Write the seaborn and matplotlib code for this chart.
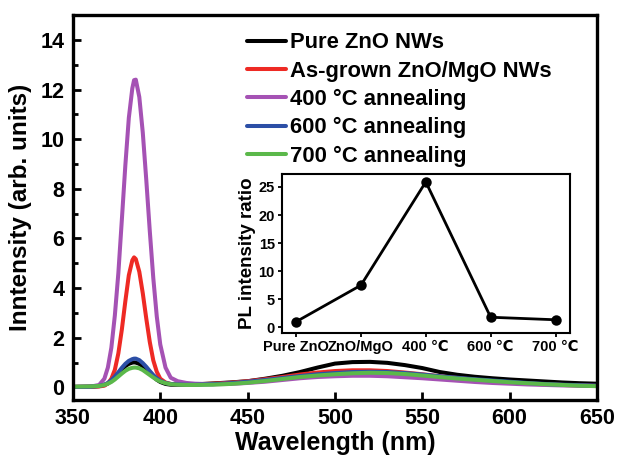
import matplotlib
matplotlib.use("Agg")
import matplotlib.pyplot as plt
from matplotlib.ticker import MultipleLocator
import seaborn as sns

# Datos
wavelength = [350, 360, 365, 368, 370, 372, 374, 376, 378, 380, 382, 384, 385, 386, 388,
              390, 392, 394, 396, 398, 400, 403, 406, 410, 415, 420, 430, 440, 450,
              460, 470, 480, 490, 500, 510, 520, 530, 540, 550, 560, 570, 580, 590,
              600, 610, 620, 630, 640, 650]

pure_zno = [0.02, 0.03, 0.05, 0.10, 0.16, 0.26, 0.40, 0.56, 0.72, 0.86, 0.95, 1.00, 1.01, 1.00, 0.95,
            0.85, 0.72, 0.57, 0.43, 0.31, 0.22, 0.14, 0.11, 0.10, 0.11, 0.12, 0.16, 0.20, 0.25,
            0.35, 0.47, 0.62, 0.80, 0.96, 1.02, 1.03, 0.99, 0.90, 0.78, 0.62, 0.51, 0.43, 0.37,
            0.32, 0.28, 0.24, 0.20, 0.17, 0.15]

as_grown = [0.02, 0.03, 0.04, 0.07, 0.16, 0.35, 0.71, 1.37, 2.33, 3.47, 4.52, 5.12, 5.24, 5.17, 4.66,
            3.79, 2.77, 1.83, 1.09, 0.63, 0.35, 0.20, 0.14, 0.12, 0.12, 0.13, 0.15, 0.19, 0.25,
            0.33, 0.42, 0.52, 0.60, 0.66, 0.69, 0.69, 0.66, 0.60, 0.53, 0.45, 0.38, 0.31, 0.25,
            0.20, 0.16, 0.12, 0.10, 0.08, 0.06]

ann_400 = [0.02, 0.03, 0.10, 0.35, 0.80, 1.60, 2.90, 4.60, 6.75, 8.94, 10.86, 12.05, 12.38, 12.40, 11.70,
           10.26, 8.35, 6.30, 4.41, 2.86, 1.73, 0.80, 0.39, 0.25, 0.18, 0.15, 0.13, 0.14, 0.18,
           0.23, 0.30, 0.37, 0.42, 0.45, 0.47, 0.47, 0.45, 0.41, 0.37, 0.32, 0.27, 0.22, 0.18,
           0.15, 0.12, 0.10, 0.08, 0.07, 0.06]

ann_600 = [0.02, 0.03, 0.06, 0.11, 0.18, 0.29, 0.44, 0.61, 0.79, 0.95, 1.07, 1.14, 1.16, 1.16, 1.10,
           0.98, 0.83, 0.66, 0.50, 0.37, 0.27, 0.18, 0.14, 0.12, 0.11, 0.11, 0.13, 0.17, 0.23,
           0.30, 0.38, 0.46, 0.53, 0.58, 0.62, 0.63, 0.62, 0.58, 0.52, 0.45, 0.39, 0.33, 0.28,
           0.23, 0.18, 0.14, 0.11, 0.09, 0.07]

ann_700 = [0.03, 0.04, 0.06, 0.10, 0.15, 0.22, 0.32, 0.44, 0.56, 0.67, 0.75, 0.79, 0.80, 0.80, 0.77,
           0.70, 0.60, 0.50, 0.40, 0.31, 0.24, 0.17, 0.13, 0.11, 0.10, 0.10, 0.11, 0.14, 0.19,
           0.26, 0.34, 0.42, 0.48, 0.53, 0.57, 0.59, 0.58, 0.54, 0.48, 0.42, 0.36, 0.31, 0.26,
           0.21, 0.17, 0.13, 0.10, 0.07, 0.05]

series_labels = ["Pure ZnO NWs", "As-grown ZnO/MgO NWs", "400 °C annealing",
                 "600 °C annealing", "700 °C annealing"]
series_colors = ["black", "#ee2a24", "#a552b4", "#2c4fa6", "#5bb84a"]

# Inset
inset_cats = ["Pure ZnO", "ZnO/MgO", "400 ℃", "600 ℃", "700 ℃"]
inset_ratio = [1.0, 7.5, 25.9, 1.8, 1.35]

sns.set_style("ticks")
plt.rcParams["font.family"] = ["Liberation Sans", "DejaVu Sans"]
plt.rcParams["font.weight"] = "bold"
for k in ["text.color", "axes.labelcolor", "xtick.color", "ytick.color", "axes.edgecolor"]:
    plt.rcParams[k] = "black"

fig = plt.figure(figsize=(6.18, 4.58), dpi=100)
ax = fig.add_axes([0.118, 0.127, 0.848, 0.840])

all_series = [pure_zno, as_grown, ann_400, ann_600, ann_700]
for vals, lab, col in zip(all_series, series_labels, series_colors):
    sns.lineplot(x=wavelength, y=vals, color=col, linewidth=2.9, label=lab, ax=ax)

ax.set_xlim(350, 650)
ax.set_ylim(-0.5, 15)
ax.set_xticks(range(350, 651, 50))
ax.set_yticks(range(0, 15, 2))
ax.yaxis.set_minor_locator(MultipleLocator(1))
ax.tick_params(which="both", direction="in", width=2, labelsize=15.5, pad=6)
ax.tick_params(which="major", length=6)
ax.tick_params(which="minor", length=3.5)
ax.tick_params(axis="x", which="both", top=False)
ax.tick_params(axis="y", which="both", right=False)
for s in ax.spines.values():
    s.set_linewidth(2.4)
    s.set_visible(True)
ax.set_xlabel("Wavelength (nm)", fontsize=18, fontweight="bold", labelpad=1)
ax.set_ylabel("Inntensity (arb. units)", fontsize=17.5, fontweight="bold", labelpad=6)

ax.legend(loc="upper left", bbox_to_anchor=(0.315, 0.978), frameon=False,
          fontsize=15.8, handlelength=1.8, handletextpad=0.15, labelspacing=0.33,
          borderaxespad=0)

# Grafico insertado
axin = fig.add_axes([0.456, 0.273, 0.466, 0.347])
sns.pointplot(x=inset_cats, y=inset_ratio, color="black", markersize=6,
              linewidth=2, ax=axin)
axin.set_xlim(-0.22, 4.22)
axin.set_ylim(-1, 27.3)
axin.set_yticks(range(0, 26, 5))
axin.tick_params(direction="out", width=1.3, length=3, labelsize=10.5, pad=2)
for lbl in axin.get_xticklabels() + axin.get_yticklabels():
    lbl.set_fontweight("bold")
for s in axin.spines.values():
    s.set_linewidth(1.5)
    s.set_visible(True)
axin.set_xlabel("")
axin.set_ylabel("PL intensity ratio", fontsize=13.5, fontweight="bold", labelpad=2)

fig.savefig("out.png", dpi=100)
